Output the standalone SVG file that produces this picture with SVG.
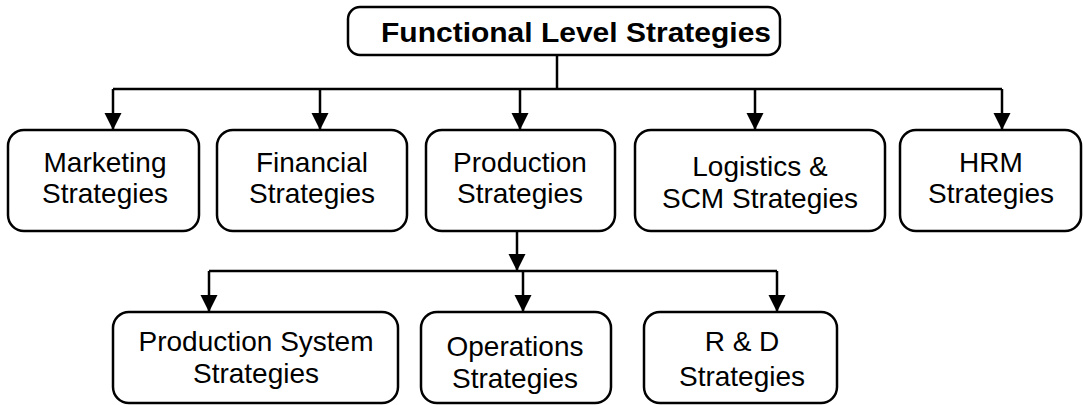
<svg xmlns="http://www.w3.org/2000/svg" width="1083" height="405" viewBox="0 0 1083 405">
<style>
.box{fill:#fff;stroke:#000;stroke-width:2.5}
.t{font-family:"Liberation Sans",Arial,sans-serif;font-size:28px;fill:#000;text-anchor:middle}
.tb{font-family:"Liberation Sans",Arial,sans-serif;font-size:28px;font-weight:bold;fill:#000;text-anchor:middle}
.c{stroke:#000;stroke-width:2.5;fill:none}
</style>
<defs>
<marker id="ah" markerWidth="17" markerHeight="18" refX="17" refY="8.5" orient="auto" markerUnits="userSpaceOnUse" viewBox="0 0 17 17"><path d="M0,0 L17,8.5 L0,17 Z" fill="#000"/></marker>
</defs>
<g id="connectors">
<path class="c" d="M557,55 V89"/>
<path class="c" d="M113,89 H1002"/>
<path class="c" d="M113,89 V130" marker-end="url(#ah)"/>
<path class="c" d="M320,89 V130" marker-end="url(#ah)"/>
<path class="c" d="M520,89 V130" marker-end="url(#ah)"/>
<path class="c" d="M755,89 V130" marker-end="url(#ah)"/>
<path class="c" d="M1002,89 V130" marker-end="url(#ah)"/>
<path class="c" d="M517,232 V271" marker-end="url(#ah)"/>
<path class="c" d="M209,271 H777"/>
<path class="c" d="M209,271 V312" marker-end="url(#ah)"/>
<path class="c" d="M523,271 V312" marker-end="url(#ah)"/>
<path class="c" d="M777,271 V312" marker-end="url(#ah)"/>
</g>
<g id="n-root"><rect class="box" x="348" y="7" width="432" height="48" rx="12"/><text class="tb" x="576" y="42" textLength="390" lengthAdjust="spacingAndGlyphs">Functional Level Strategies</text></g>
<g id="n-marketing"><rect class="box" x="8" y="130" width="191" height="101" rx="16"/><text class="t" x="105" y="172">Marketing</text><text class="t" x="105" y="203">Strategies</text></g>
<g id="n-financial"><rect class="box" x="217" y="130" width="190" height="101" rx="16"/><text class="t" x="312" y="172">Financial</text><text class="t" x="312" y="203">Strategies</text></g>
<g id="n-production"><rect class="box" x="426" y="130" width="189" height="101" rx="16"/><text class="t" x="520" y="172">Production</text><text class="t" x="520" y="203">Strategies</text></g>
<g id="n-logistics"><rect class="box" x="635" y="130" width="250" height="101" rx="16"/><text class="t" x="760" y="176">Logistics &amp;</text><text class="t" x="760" y="208">SCM Strategies</text></g>
<g id="n-hrm"><rect class="box" x="900" y="130" width="181" height="101" rx="16"/><text class="t" x="991" y="172">HRM</text><text class="t" x="991" y="203">Strategies</text></g>
<g id="n-prodsys"><rect class="box" x="113" y="312" width="285" height="91" rx="16"/><text class="t" x="256" y="351">Production System</text><text class="t" x="256" y="383">Strategies</text></g>
<g id="n-operations"><rect class="box" x="421" y="312" width="190" height="91" rx="16"/><text class="t" x="515" y="356">Operations</text><text class="t" x="515" y="388">Strategies</text></g>
<g id="n-rd"><rect class="box" x="644" y="312" width="193" height="91" rx="16"/><text class="t" x="742" y="351">R &amp; D</text><text class="t" x="742" y="386">Strategies</text></g>
</svg>
